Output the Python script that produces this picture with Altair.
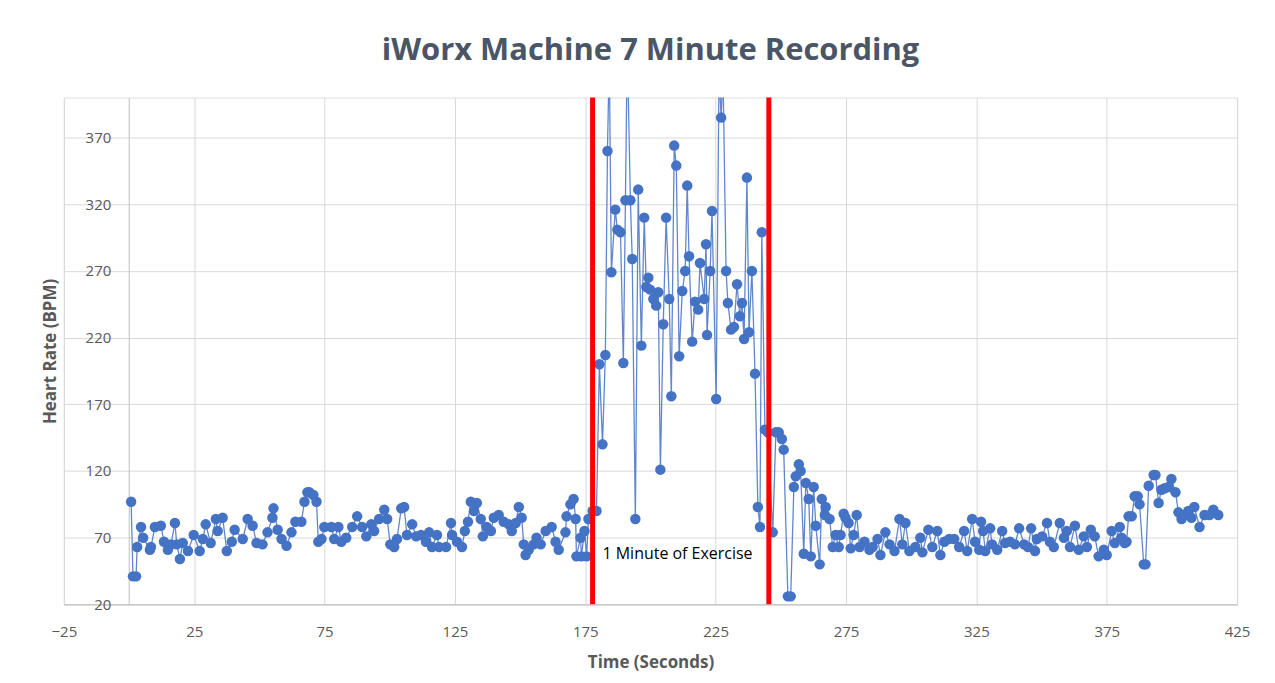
import altair as alt
import pandas as pd

# (time in seconds, heart rate in BPM)
pre_exercise = [
    (0.8, 97), (1.5, 41), (2.7, 41), (3.1, 63), (4.6, 78), (5.4, 70), (8.0, 61), (8.4, 63),
    (9.9, 78), (12.2, 79), (13.4, 67), (14.9, 61), (16.1, 65), (17.6, 81), (18.3, 65), (19.5, 54),
    (20.6, 66), (22.6, 60), (24.8, 72), (27.1, 60), (28.3, 69), (29.4, 80), (31.3, 66), (33.3, 84),
    (34.0, 75), (35.9, 85), (37.5, 60), (39.4, 67), (40.5, 76), (43.6, 69), (45.5, 84), (47.4, 79),
    (48.9, 66), (51.2, 65), (53.1, 74), (55.0, 85), (55.4, 92), (57.0, 76), (58.5, 69), (60.4, 64),
    (62.3, 74), (63.8, 82), (66.1, 82), (67.3, 97), (68.4, 104), (69.2, 104), (70.7, 102), (71.9, 97),
    (72.6, 67), (73.8, 69), (74.9, 78), (77.6, 78), (78.7, 69), (80.3, 78), (81.4, 67), (83.3, 70),
    (85.6, 78), (87.5, 86), (89.4, 78), (91.0, 71), (92.9, 80), (94.0, 75), (95.9, 84), (97.9, 91),
    (99.0, 84), (100.2, 65), (101.7, 63), (102.8, 69), (104.4, 92), (105.5, 93), (106.6, 72), (108.6, 80),
    (110.1, 71), (112.0, 72), (113.9, 67), (115.1, 74), (116.2, 63), (118.1, 72), (118.9, 63), (121.6, 63),
    (123.5, 81), (123.9, 72), (125.8, 67), (127.7, 63), (128.8, 75), (130.0, 82), (131.1, 97), (132.3, 90),
    (133.4, 96), (134.9, 84), (135.7, 71), (137.2, 78), (138.8, 75), (139.9, 85), (141.8, 87), (143.7, 82),
    (145.6, 80), (146.8, 75), (148.3, 81), (149.5, 93), (150.6, 85), (151.4, 65), (152.1, 57), (153.3, 61),
    (155.2, 65), (156.3, 70), (157.9, 65), (159.8, 75), (162.1, 78), (163.6, 67), (164.8, 61), (167.4, 74),
    (167.8, 86), (169.3, 95), (170.5, 99), (171.3, 84), (171.6, 56), (173.2, 70), (173.5, 56), (174.7, 75),
    (175.5, 56), (176.2, 84), (177.8, 90),
]

exercise = [
    (179.3, 90), (180.4, 200), (181.6, 140), (182.7, 207), (183.5, 360), (184.2, 430), (185.0, 269),
    (186.5, 316), (187.3, 301), (188.5, 299), (189.6, 201), (190.4, 323), (191.1, 440), (192.3, 323),
    (193.0, 279), (194.2, 84), (195.3, 331), (196.5, 214), (197.6, 310), (198.4, 258), (199.2, 265),
    (199.9, 256), (201.1, 249), (202.2, 244), (203.0, 254), (203.8, 121), (204.9, 230), (206.0, 310),
    (207.2, 249), (208.0, 176), (209.1, 364), (209.9, 349), (211.0, 206), (212.2, 255), (213.3, 270),
    (214.1, 334), (214.8, 281), (216.0, 217), (217.1, 247), (218.3, 241), (219.0, 276), (220.6, 249),
    (221.3, 290), (221.7, 222), (222.9, 270), (223.6, 315), (225.2, 174), (226.3, 420), (227.1, 385),
    (227.8, 420), (229.0, 270), (229.7, 246), (230.9, 226), (232.0, 228), (233.2, 260), (234.3, 236),
    (235.1, 246), (235.9, 219), (237.0, 340), (237.8, 224), (238.9, 270), (240.1, 193), (241.2, 93),
    (242.0, 78), (242.7, 299), (243.9, 151), (245.0, 149),
]

recovery = [
    (246.9, 74), (248.1, 149), (249.2, 149), (250.4, 144), (251.1, 136), (252.7, 26), (253.8, 26),
    (255.0, 108), (255.7, 116), (256.9, 125), (257.6, 120), (258.8, 58), (259.6, 111), (260.7, 99),
    (261.5, 56), (262.6, 108), (263.4, 79), (264.9, 50), (265.7, 99), (266.9, 87), (267.2, 93),
    (268.7, 84), (269.9, 63), (271.0, 72), (272.2, 63), (272.9, 72), (274.1, 88), (274.8, 85),
    (276.0, 81), (276.8, 62), (277.9, 72), (279.1, 87), (280.2, 63), (282.1, 67), (284.0, 61),
    (285.2, 63), (287.1, 69), (288.2, 57), (290.1, 74), (291.7, 65), (293.6, 60), (295.5, 84),
    (296.6, 65), (297.8, 81), (299.3, 60), (301.6, 63), (303.5, 70), (304.3, 59), (306.6, 76),
    (308.1, 63), (310.0, 75), (311.2, 57), (312.7, 67), (314.6, 69), (316.5, 69), (318.4, 63),
    (320.3, 75), (321.5, 60), (323.4, 84), (324.5, 67), (326.1, 61), (326.8, 82), (327.6, 75),
    (328.4, 60), (330.3, 77), (331.0, 65), (333.0, 61), (334.9, 75), (336.0, 66), (337.9, 67),
    (339.8, 65), (341.4, 77), (343.3, 65), (344.8, 63), (346.0, 77), (347.5, 60), (348.2, 69),
    (350.2, 71), (352.1, 81), (353.2, 67), (354.7, 63), (357.0, 81), (358.6, 70), (359.7, 75),
    (360.9, 63), (362.8, 79), (364.3, 61), (366.2, 71), (367.4, 63), (368.9, 76), (370.4, 71),
    (371.9, 56), (373.9, 61), (375.0, 57), (376.9, 75), (378.1, 66), (380.0, 78), (380.7, 70),
    (381.9, 66), (382.6, 67), (383.4, 86), (384.6, 86), (385.7, 101), (386.9, 101), (387.6, 95),
    (389.2, 50), (389.9, 50), (391.1, 109), (393.0, 117), (393.7, 117), (394.9, 96), (396.0, 106),
    (397.2, 107), (398.7, 108), (399.8, 114), (401.4, 104), (402.5, 89), (403.7, 84), (404.8, 87),
    (406.3, 90), (407.5, 85), (408.6, 93), (410.6, 78), (412.5, 87), (414.4, 87), (415.9, 91),
    (417.8, 87),
]

exercise_bounds = [177.8, 245.4]
x_ticks = [-25, 25, 75, 125, 175, 225, 275, 325, 375, 425]
y_ticks = [20, 70, 120, 170, 220, 270, 320, 370]
annotation = {"t": 181.6, "bpm": 57.5, "label": "1 Minute of Exercise"}

rows = pre_exercise + exercise + recovery
df = pd.DataFrame(rows, columns=["t", "bpm"])
rules_df = pd.DataFrame({"t": exercise_bounds})
label_df = pd.DataFrame([annotation])

W, H = 1176, 508
BLUE = "#4472C4"
GRAY = "#595959"
TITLE_COLOR = "#4a5566"
FONT = "Open Sans"

x_scale = alt.Scale(domain=[-25, 425], nice=False, zero=False)
y_scale = alt.Scale(domain=[20, 400], nice=False, zero=False)

x_axis = alt.Axis(
    values=x_ticks, grid=True, gridColor="#d9d9d9", ticks=False, labelFlush=False,
    domainColor="#bfbfbf", labelFontSize=15, labelColor=GRAY, labelFont=FONT,
    labelPadding=20, title="Time (Seconds)", titleFontSize=17, titleFont=FONT,
    titleFontWeight="bold", titleColor=GRAY, titlePadding=15,
)
y_axis = alt.Axis(
    values=y_ticks, grid=True, gridColor="#d9d9d9", ticks=False,
    domainColor="#bfbfbf", labelFontSize=15, labelColor=GRAY, labelFont=FONT,
    labelPadding=18, offset=-65, title="Heart Rate (BPM)", titleFontSize=17,
    titleFont=FONT, titleFontWeight="bold", titleColor=GRAY, titleX=-69,
)

base = alt.Chart(df)
line = base.mark_line(color=BLUE, strokeWidth=1.3, opacity=0.85, clip=True).encode(
    x=alt.X("t:Q", scale=x_scale, axis=x_axis),
    y=alt.Y("bpm:Q", scale=y_scale, axis=y_axis),
    order="t:Q",
)
points = base.mark_circle(size=110, color=BLUE, opacity=1, clip=True).encode(
    x=alt.X("t:Q", scale=x_scale),
    y=alt.Y("bpm:Q", scale=y_scale),
)
rules = alt.Chart(rules_df).mark_rule(color="#ff0000", strokeWidth=5).encode(
    x=alt.X("t:Q", scale=x_scale),
    y=alt.value(0),
    y2=alt.value(H),
)
text = alt.Chart(label_df).mark_text(
    align="left", baseline="middle", fontSize=16, font=FONT, color="#000000"
).encode(
    x=alt.X("t:Q", scale=x_scale),
    y=alt.Y("bpm:Q", scale=y_scale),
    text="label:N",
)

chart = alt.layer(line, points, rules, text).properties(
    width=W,
    height=H,
    title=alt.TitleParams(
        "iWorx Machine 7 Minute Recording", fontSize=31, font=FONT,
        fontWeight="bold", color=TITLE_COLOR, offset=28, anchor="middle",
    ),
    autosize=alt.AutoSizeParams(type="none"),
    padding={"left": 56, "top": 89, "right": 30, "bottom": 70},
).configure_view(stroke=None).configure(background="white")

chart.save("out.html", embed_options={"renderer": "svg", "actions": False})
